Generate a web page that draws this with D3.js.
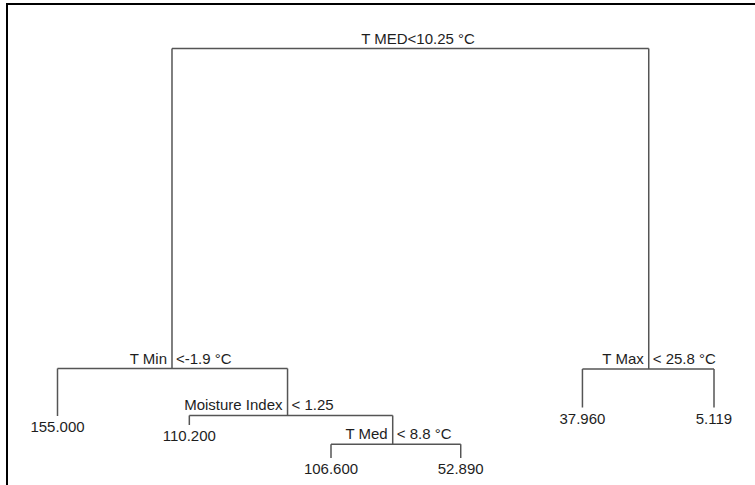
<!DOCTYPE html>
<html>
<head>
<meta charset="utf-8">
<script src="https://cdn.jsdelivr.net/npm/d3@7"></script>
<style>
	body { margin: 0; background: #fff; }
	.branches line { stroke: #555; stroke-width: 1.5; }
	text { font-family: "Liberation Sans", Arial, sans-serif; font-size: 15px; fill: #1e1e1e; }
</style>
</head>
<body>
<div class="tree"></div>
<script>

// rpart style numbering: children of n are 2n and 2n+1
const nodeId = [1, 2, 4, 5, 10, 11, 22, 23, 3, 6, 7];
// horizontal position in leaf units
const nodeX = [3.746, 1.872, 1.0, 2.752, 2.004, 3.553, 3.083, 4.071, 5.503, 4.998, 6.0];
// node height as share of root deviance
const nodeDev = [100, 25.84, 14.83, 14.95, 12.75, 8.3, 5.1, 5.1, 25.72, 16.8, 16.8];

const splitNode = [1, 2, 5, 11, 3];
const splitVar = ["T MED", "T Min", "Moisture Index", "T Med", "T Max"];
const splitCond = ["<10.25 °C", "<-1.9 °C", "< 1.25", "< 8.8 °C", "< 25.8 °C"];

const leafNode = [4, 10, 22, 23, 6, 7];
const leafValue = [155.0, 110.2, 106.6, 52.89, 37.96, 5.119];

const width = 755;
const height = 485;

const svg = d3.select(".tree")
				.append("svg")
				.attr("width", width)
				.attr("height", height);

const x = d3.scaleLinear().domain([1, 6]).range([57.5, 714]);
const y = d3.scaleLinear().domain([100, 0]).range([48.5, 480]);

const nodes = nodeId.map((id, i) => ({ id: id, x: x(nodeX[i]), y: y(nodeDev[i]) }));
const byId = new Map(nodes.map((d) => [d.id, d]));

// frame: only left and top edges are visible
svg.append("line")
	.attr("x1", 7).attr("x2", 7)
	.attr("y1", 3).attr("y2", height)
	.style("stroke", "#000").style("stroke-width", 2);
svg.append("line")
	.attr("x1", 6).attr("x2", width)
	.attr("y1", 4).attr("y2", 4)
	.style("stroke", "#000").style("stroke-width", 2);

const branches = svg.append("g").attr("class", "branches");

// horizontal bar of each split
branches.selectAll(".hbar")
	.data(splitNode).enter()
	.append("line")
		.attr("class", "hbar")
		.attr("x1", (id) => byId.get(id * 2).x)
		.attr("x2", (id) => byId.get(id * 2 + 1).x)
		.attr("y1", (id) => byId.get(id).y)
		.attr("y2", (id) => byId.get(id).y);

// vertical drop to every child
branches.selectAll(".vbar")
	.data(nodes.filter((d) => d.id > 1)).enter()
	.append("line")
		.attr("class", "vbar")
		.attr("x1", (d) => d.x)
		.attr("x2", (d) => d.x)
		.attr("y1", (d) => byId.get(Math.floor(d.id / 2)).y)
		.attr("y2", (d) => d.y);

// split labels
const splits = svg.append("g").attr("class", "splits")
	.selectAll("g")
		.data(splitNode).enter()
	.append("g")
		.attr("transform", (id) => `translate(${byId.get(id).x}, ${byId.get(id).y - 5})`);

splits.filter((id) => id === 1)
	.append("text")
		.attr("text-anchor", "middle")
		.text((id, i) => splitVar[0] + splitCond[0]);

splits.filter((id) => id !== 1)
	.append("text")
		.attr("text-anchor", "end")
		.attr("x", -5)
		.text((id) => splitVar[splitNode.indexOf(id)]);

splits.filter((id) => id !== 1)
	.append("text")
		.attr("text-anchor", "start")
		.attr("x", 4)
		.text((id) => splitCond[splitNode.indexOf(id)]);

// leaf means
const fmt = d3.format(".3f");
svg.append("g").attr("class", "leaves")
	.selectAll("text")
		.data(leafNode).enter()
	.append("text")
		.attr("text-anchor", "middle")
		.attr("x", (id) => byId.get(id).x)
		.attr("y", (id) => byId.get(id).y + 16)
		.text((id, i) => fmt(leafValue[i]));

</script>
</body>
</html>
